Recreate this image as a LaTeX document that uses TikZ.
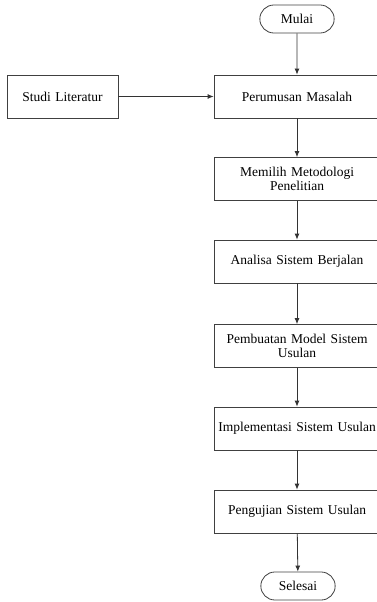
\documentclass[tikz,border=0pt]{standalone}
\usepackage{fontspec}
\setmainfont{Liberation Serif}
\usetikzlibrary{arrows.meta,shapes.misc}

\tikzset{
  proses/.style={draw=black!75, line width=0.8pt, minimum width=166pt, minimum height=43pt,
    text width=163pt, align=center, inner sep=0pt, font=\fontsize{13.5}{14.5}\selectfont},
  terminal/.style={draw=black!75, line width=0.8pt, rounded rectangle, minimum width=81pt,
    minimum height=28pt, font=\fontsize{13.5}{14.5}\selectfont},
  panah/.style={draw=black!80, line width=0.8pt, -{Latex[length=6pt,width=5pt]}}
}

\begin{document}
\begin{tikzpicture}[x=1pt, y=-1pt]
    \useasboundingbox (0, 0) rectangle (377, 602);

    \node[terminal] (mulai) at (297, 19) {Mulai};
    \node[proses] (rumus) at (297, 96.5) {Perumusan Masalah};
    \node[proses, minimum width=111pt, text width=105pt] (studi) at (62.5, 96.5) {Studi Literatur};
    \node[proses] (metode) at (297, 179) {Memilih Metodologi\\ Penelitian};
    \node[proses] (analisa) at (297, 261.5) {Analisa Sistem Berjalan};
    \node[proses] (model) at (297, 346) {Pembuatan Model Sistem\\ Usulan};
    \node[proses] (impl) at (297, 428.5) {Implementasi Sistem Usulan};
    \node[proses] (uji) at (297, 511.5) {Pengujian Sistem Usulan};
    \node[terminal] (selesai) at (298, 586) {Selesai};

    \draw[panah] (mulai) -- (rumus);
    \draw[panah] (studi) -- (rumus);
    \draw[panah] (rumus) -- (metode);
    \draw[panah] (metode) -- (analisa);
    \draw[panah] (analisa) -- (model);
    \draw[panah] (model) -- (impl);
    \draw[panah] (impl) -- (uji);
    \draw[panah] (uji) -- (selesai);
\end{tikzpicture}
\end{document}
